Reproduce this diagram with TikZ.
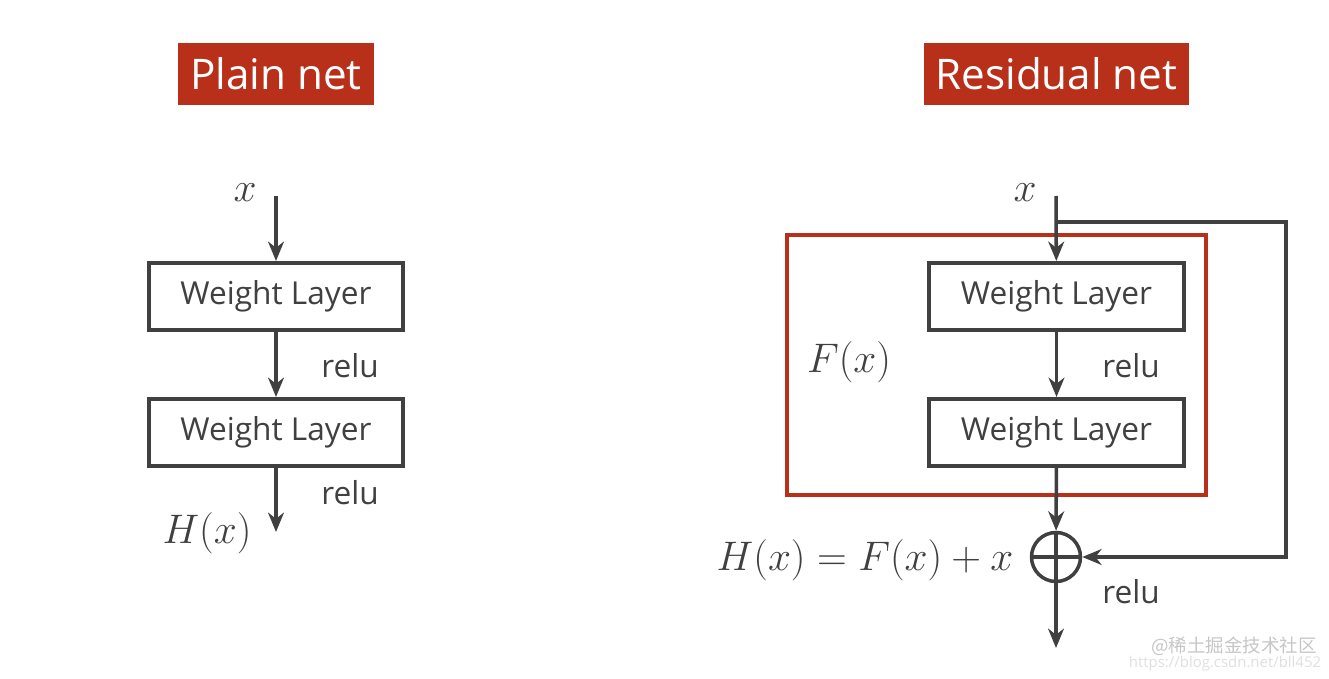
\documentclass[tikz,border=0pt]{standalone}
\usepackage{fix-cm}
\usepackage{amsmath}
\usepackage{fontspec}
\usepackage{tikz}
\usepackage{xcolor}
\usetikzlibrary{positioning,arrows.meta,calc}
\newfontfamily\labelfont{Open Sans}
\newfontfamily\cjkfont{Noto Sans CJK SC}
\definecolor{titlered}{HTML}{B8301A}
\definecolor{ink}{HTML}{404040}

\begin{document}
\begin{tikzpicture}[x=0.02cm,y=-0.02cm,every node/.style={font=\labelfont\fontsize{18}{21}\selectfont,text=ink}]
   \tikzstyle{title}=[fill=titlered, text=white, inner sep=0pt, minimum height=1.24cm, font=\labelfont\fontsize{24}{28}\selectfont];
   \tikzstyle{wl}=[draw=ink, line width=2.3pt, inner sep=0pt, minimum width=5.1cm, minimum height=1.34cm];
   \tikzstyle{m}=[font=\fontsize{23.5}{28}\selectfont];
   \tikzstyle{l}=[draw=ink, line width=2pt, -{Stealth[length=11pt,width=9pt,inset=3.5pt]}];
   \tikzstyle{wm}=[text=gray!45, font=\cjkfont\fontsize{10.5}{12}\selectfont, inner sep=1pt];
   \useasboundingbox (0,0) rectangle (1329,679);
   % titles
   \node[title, minimum width=3.92cm] (tp) at (276,74)    {Plain net};
   \node[title, minimum width=5.3cm]  (tr) at (1056.5,74) {Residual net};
   % plain net
   \node[m]  (xa)  at (245,193) {$x$};
   \coordinate (ina)  at (276,196);
   \node[wl] (wa1) at (276,296.5) {Weight Layer};
   \node[wl] (wa2) at (276,432.5) {Weight Layer};
   \coordinate (outa) at (276,532);
   \node     (ra1) at (350,366) {relu};
   \node     (ra2) at (350,493) {relu};
   \node[m]  (ha)  at (207,533) {$H(x)$};
   \draw[l] (ina) -- (wa1);
   \draw[l] (wa1) -- (wa2);
   \draw[l] (wa2) -- (outa);
   % residual net
   \node[draw=titlered, line width=2pt, minimum width=8.38cm, minimum height=5.2cm] (fb) at (996.5,365) {};
   \node[m]  (xb)  at (1025,193) {$x$};
   \coordinate (inb) at (1056,196);
   \coordinate (sk1) at (1056,222);
   \coordinate (sk2) at (1286,222);
   \coordinate (sk3) at (1286,557);
   \node[wl] (wb1) at (1056.5,296.5) {Weight Layer};
   \node[wl] (wb2) at (1056.5,432.5) {Weight Layer};
   \node[circle, draw=ink, line width=2pt, minimum size=0.98cm, inner sep=0pt] (plus) at (1056,557) {};
   \draw[draw=ink, line width=2pt] (plus.north) -- (plus.south) (plus.west) -- (plus.east);
   \coordinate (outb) at (1056,648);
   \node     (rb1) at (1131,366) {relu};
   \node     (rb2) at (1131,592) {relu};
   \node[m]  (fx)  at (849,362) {$F(x)$};
   \node[m]  (hb)  at (865,560) {$H(x)=F(x)+x$};
   \draw[l] (inb) -- (wb1);
   \draw[l] (wb1) -- (wb2);
   \draw[l] (wb2) -- (plus);
   \draw[l] (plus) -- (outb);
   \draw[l, line width=2.2pt] (sk1) -- (sk2) -- (sk3) -- (plus.east);
   % watermark
   \node[wm] (wm1) at (1234,646) {@稀土掘金技术社区};
   \node[wm, text=gray!25, font=\labelfont\fontsize{8.5}{10}\selectfont] (wm2) at (1225,664) {https://blog.csdn.net/bll452};
\end{tikzpicture}
\end{document}
